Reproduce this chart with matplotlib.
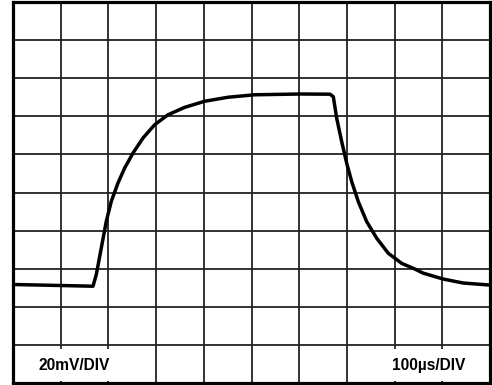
import numpy as np
import matplotlib
matplotlib.use("Agg")
import matplotlib.pyplot as plt

# Time (µs) and voltage (mV)
time_us = [0, 77.6, 167.7, 174.6, 185.1, 195.6, 206.1, 220.1, 234.2, 251.6, 272.5,
           297.1, 324.9, 359.9, 401.9, 450.7, 506.7, 601.7, 664.6, 671.5, 678.6,
           689.1, 699.6, 710.1, 723.9, 741.5, 762.5, 786.8, 814.9, 842.8, 859.5,
           901.5, 943.4, 1000]
volt_mV = [51.7, 51.3, 50.8, 56.9, 70.9, 84.9, 95.4, 105.0, 112.9, 120.7, 128.6,
           135.6, 140.8, 144.7, 147.9, 150.0, 151.3, 151.7, 151.6, 150.3, 139.0,
           126.7, 115.3, 105.7, 95.2, 84.7, 76.0, 68.1, 62.8, 59.8, 57.7,
           54.6, 52.5, 51.4]

x_divs = np.arange(0, 1001, 100)   # 100 µs/DIV
y_divs = np.arange(0, 201, 20)     # 20 mV/DIV
left_label = "20mV/DIV"
right_label = "100µs/DIV"

fig = plt.figure(figsize=(4.92, 3.85), dpi=100)
ax = fig.add_axes([13/492, 2/385, (490-13)/492, (383-2)/385])
ax.set_xlim(0, 1000)
ax.set_ylim(0, 200)
ax.set_xticks(x_divs)
ax.set_yticks(y_divs)
ax.tick_params(length=0, labelbottom=False, labelleft=False)
ax.set_axisbelow(True)
ax.grid(True, color="#222222", linewidth=1.3)
for s in ax.spines.values():
    s.set_linewidth(2.3)
    s.set_color("black")

ax.plot(time_us, volt_mV, color="black", linewidth=2.5, solid_joinstyle="round",
        solid_capstyle="round", zorder=3)

bbox = dict(boxstyle="square,pad=0.55", facecolor="white", edgecolor="none")
ax.text(129, 9.4, left_label, ha="center", va="center", fontsize=11.2,
        fontweight="bold", family="Liberation Sans", bbox=bbox, zorder=4)
ax.text(872, 9.4, right_label, ha="center", va="center", fontsize=11.2,
        fontweight="bold", family="Liberation Sans", bbox=bbox, zorder=4)

fig.savefig("out.png", dpi=100)
